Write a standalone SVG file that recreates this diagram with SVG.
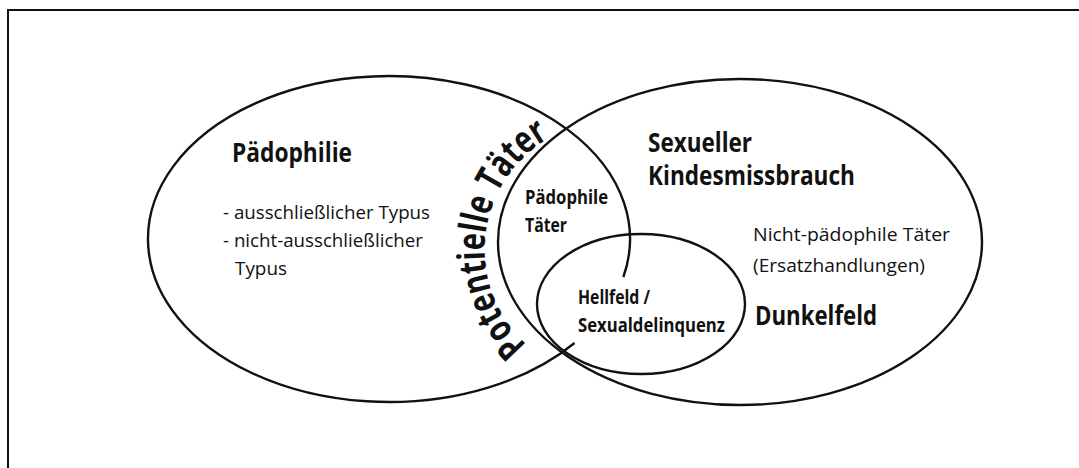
<svg xmlns="http://www.w3.org/2000/svg" width="1079" height="468" viewBox="0 0 1079 468">
<style>
.ln{fill:none;stroke:#111;stroke-width:2.4}
.t{font-family:"Open Sans","Noto Sans","Liberation Sans",sans-serif;fill:#111}
.b{font-weight:bold}
.big{font-size:26px}
.mid{font-size:20px}
.reg{font-size:19px}
.curve{font-size:38px;font-weight:bold}
</style>
<defs>
<path id="arcPT" d="M 532.9 350 A 128.6 128.6 0 0 1 555.3 134.8"/>
</defs>
<rect x="0" y="0" width="1079" height="468" fill="#fff"/>
<path d="M 8 468 L 8 10 L 1079 10" fill="none" stroke="#111" stroke-width="2"/>

<g id="node-paedophilie">
<path class="ln" d="M 623.36 277 A 241 163 0 1 0 574.57 343"/>
<text class="t b big" x="232" y="162" textLength="120" lengthAdjust="spacingAndGlyphs">Pädophilie</text>
<text class="t reg" x="223" y="219" textLength="207" lengthAdjust="spacingAndGlyphs">- ausschließlicher Typus</text>
<text class="t reg" x="223" y="247" textLength="200" lengthAdjust="spacingAndGlyphs">- nicht-ausschließlicher</text>
<text class="t reg" x="235" y="275" textLength="52" lengthAdjust="spacingAndGlyphs">Typus</text>
</g>

<g id="node-potentielle-taeter">
<text class="t curve"><textPath href="#arcPT" startOffset="8" textLength="242" lengthAdjust="spacingAndGlyphs">Potentielle Täter</textPath></text>
</g>

<g id="node-kindesmissbrauch">
<ellipse class="ln" cx="740" cy="242" rx="242" ry="163"/>
<text class="t b big" x="648" y="152" textLength="104" lengthAdjust="spacingAndGlyphs">Sexueller</text>
<text class="t b big" x="648" y="185" textLength="207" lengthAdjust="spacingAndGlyphs">Kindesmissbrauch</text>
<text class="t reg" x="753" y="241" textLength="197" lengthAdjust="spacingAndGlyphs">Nicht-pädophile Täter</text>
<text class="t reg" x="753" y="272" textLength="172" lengthAdjust="spacingAndGlyphs">(Ersatzhandlungen)</text>
<text class="t b big" x="755" y="325" textLength="122" lengthAdjust="spacingAndGlyphs">Dunkelfeld</text>
</g>

<g id="node-paedophile-taeter">
<text class="t b mid" x="525" y="204" textLength="83" lengthAdjust="spacingAndGlyphs">Pädophile</text>
<text class="t b mid" x="525" y="232" textLength="42" lengthAdjust="spacingAndGlyphs">Täter</text>
</g>

<g id="node-hellfeld">
<ellipse class="ln" cx="641" cy="304" rx="104" ry="70"/>
<text class="t b mid" x="578" y="304" textLength="72" lengthAdjust="spacingAndGlyphs">Hellfeld /</text>
<text class="t b mid" x="578" y="332" textLength="147" lengthAdjust="spacingAndGlyphs">Sexualdelinquenz</text>
</g>

<g id="connectors"></g>
</svg>
